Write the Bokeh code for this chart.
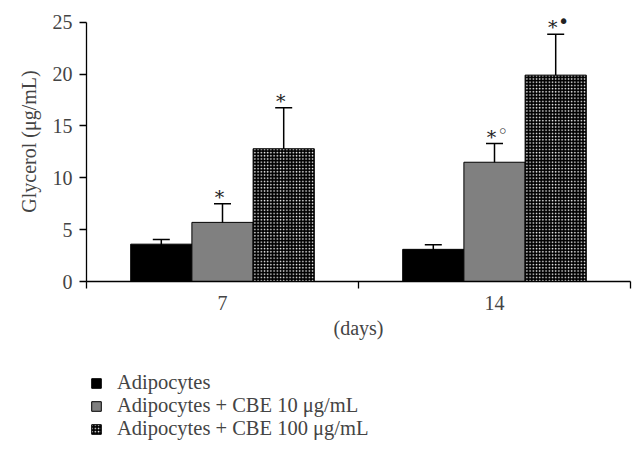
from bokeh.plotting import figure
from bokeh.layouts import column
from bokeh.models import ColumnDataSource, Whisker, TeeHead, FixedTicker, Legend, LegendItem, Range1d
from bokeh.transform import dodge
from bokeh.core.properties import value
from bokeh.embed import file_html
from bokeh.resources import INLINE

# ---- data ----
days = ["7", "14"]
series_names = ["Adipocytes", "Adipocytes + CBE 10 \u03bcg/mL", "Adipocytes + CBE 100 \u03bcg/mL"]
adipocytes = [3.6, 3.1]
adipocytes_err = [0.45, 0.45]
cbe10 = [5.7, 11.5]
cbe10_err = [1.8, 1.8]
cbe100 = [12.8, 19.9]
cbe100_err = [3.95, 3.95]
star10 = ["*", "*"]
sym10 = ["", "\u25e6"]
star100 = ["*", "*"]
sym100 = ["", "\u2022"]
y_ticks = [0, 5, 10, 15, 20, 25]

FONT = "Liberation Serif"
FS = "20px"

p = figure(frame_width=544, frame_height=280, output_backend="svg", toolbar_location=None,
           x_range=Range1d(0, len(days)), y_range=Range1d(0, 27),
           min_border_left=86, min_border_right=6, min_border_top=1, min_border_bottom=80)
p.outline_line_color = None
p.xgrid.grid_line_color = None
p.ygrid.grid_line_color = None
p.background_fill_color = "white"

xc = [i + 0.5 for i in range(len(days))]

def make_src(vals, errs, stars=None, syms=None):
    d = dict(x=xc, top=vals,
             upper=[v + e for v, e in zip(vals, errs)],
             lower=[v - e for v, e in zip(vals, errs)],
             star=stars if stars else [""] * len(vals),
             sym=syms if syms else [""] * len(vals))
    return ColumnDataSource(d)

srcs = [make_src(adipocytes, adipocytes_err),
        make_src(cbe10, cbe10_err, star10, sym10),
        make_src(cbe100, cbe100_err, star100, sym100)]
offsets = [-0.225, 0.0, 0.225]
W = 0.225

styles = [dict(fill_color="black"),
          dict(fill_color="#808080"),
          dict(fill_color="black", hatch_pattern="dot", hatch_color="white",
               hatch_scale=3.2, hatch_weight=1.4)]

for src, off, st in zip(srcs, offsets, styles):
    p.vbar(x=dodge("x", off, range=p.x_range), top="top", bottom=0, width=W,
           source=src, line_color="black", line_width=1, **st)

for src, off in zip(srcs, offsets):
    w = Whisker(base=dodge("x", off, range=p.x_range), upper="upper", lower="lower",
                source=src, line_color="black", line_width=1.5,
                upper_head=TeeHead(size=17, line_color="black", line_width=1.5),
                lower_head=TeeHead(size=17, line_color="black", line_width=1.5))
    p.add_layout(w)

for src, off in zip(srcs[1:], offsets[1:]):
    p.text(x=dodge("x", off, range=p.x_range), y="upper", text="star", source=src,
           text_align="center", text_baseline="alphabetic", x_offset=-3, y_offset=-7,
           text_font=value("DejaVu Serif"), text_font_size="19px", text_color="#222222")
    p.text(x=dodge("x", off, range=p.x_range), y="upper", text="sym", source=src,
           text_align="center", text_baseline="middle", x_offset=8, y_offset=-13,
           text_font=value("DejaVu Sans"), text_font_size="19px", text_color="#222222")

# axes
yax = p.yaxis[0]
yax.ticker = FixedTicker(ticks=y_ticks)
yax.bounds = (0, 25)
yax.minor_tick_line_color = None
yax.major_tick_in = 0
yax.major_tick_out = 7
yax.major_label_standoff = 7
yax.axis_line_width = 1.3
yax.major_tick_line_width = 1.3
yax.axis_label = "Glycerol (\u03bcg/mL)"
yax.axis_label_text_font = FONT
yax.axis_label_text_font_size = FS
yax.axis_label_text_font_style = "normal"
yax.axis_label_standoff = 10
yax.major_label_text_font = FONT
yax.major_label_text_font_size = FS

xax = p.xaxis[0]
xax.ticker = FixedTicker(ticks=xc, minor_ticks=list(range(len(days) + 1)))
xax.major_label_overrides = {x: d for x, d in zip(xc, days)}
xax.major_tick_line_color = None
xax.major_tick_out = 0
xax.major_tick_in = 0
xax.minor_tick_in = 0
xax.minor_tick_out = 7
xax.minor_tick_line_width = 1.3
xax.axis_line_width = 1.3
xax.major_label_standoff = 7
xax.major_label_text_font = FONT
xax.major_label_text_font_size = FS
xax.axis_label = "(days)"
xax.axis_label_text_font = FONT
xax.axis_label_text_font_size = FS
xax.axis_label_text_font_style = "normal"
xax.axis_label_standoff = 4

# legend panel (separate figure below the chart)
QH = 92
q = figure(width=636, height=QH, output_backend="svg", toolbar_location=None,
           x_range=Range1d(0, 1), y_range=Range1d(0, 1),
           min_border_left=0, min_border_right=0, min_border_top=0, min_border_bottom=0)
q.axis.visible = False
q.grid.visible = False
q.outline_line_color = None
legend_bars = []
for src, off, st in zip(srcs, offsets, styles):
    r = q.vbar(x="x", top="top", bottom=0, width=W, source=src,
               line_color="black", line_width=1, visible=False, **st)
    legend_bars.append(r)

legend_y = [59, 36, 13]
for n, r, ly in zip(series_names, legend_bars, legend_y):
    lg = Legend(items=[LegendItem(label=n, renderers=[r])],
                location=(4, ly), orientation="vertical",
                glyph_width=12, glyph_height=12, label_standoff=15,
                label_text_font=FONT, label_text_font_size="20.5px",
                label_height=20, spacing=0, padding=0, margin=0,
                inactive_fill_alpha=0,
                border_line_color=None, background_fill_alpha=0)
    q.add_layout(lg, "center")

layout = column(p, q, spacing=0)
open("out.html", "w").write(file_html(layout, INLINE))
